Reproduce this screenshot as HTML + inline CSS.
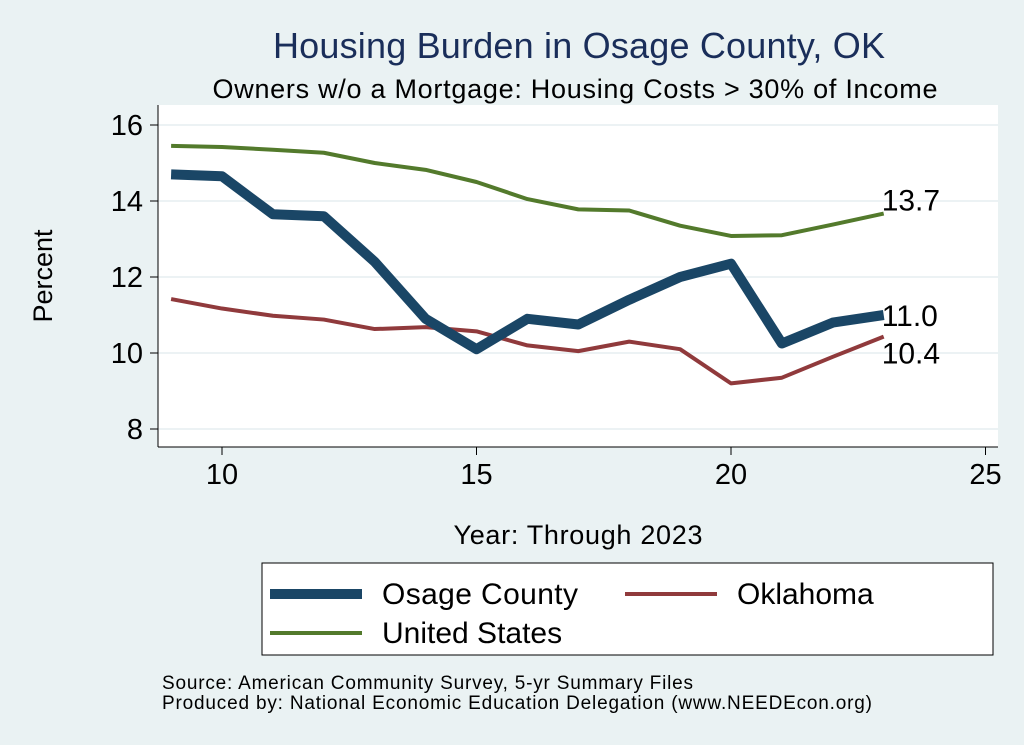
<!DOCTYPE html>
<html><head><meta charset="utf-8"><style>
body{margin:0;background:#eaf2f3;}
svg{display:block;font-family:"Liberation Sans",Arial,sans-serif;}
</style></head><body>
<svg id="c" width="1024" height="745">
<rect width="1024" height="745" fill="#eaf2f3"/>
<text x="579" y="58" font-size="36" fill="#1a2e5a" text-anchor="middle" textLength="612">Housing Burden in Osage County, OK</text>
<text x="575" y="98" font-size="27" fill="#000" text-anchor="middle" textLength="725">Owners w/o a Mortgage: Housing Costs &gt; 30% of Income</text>
<rect x="158" y="105" width="840" height="342" fill="#fff"/>
<g id="grid"></g><g id="axes"></g><g id="series"></g>
<text x="52" y="276" font-size="27" text-anchor="middle" transform="rotate(-90 52 276)">Percent</text>
<text x="578" y="544" font-size="27" text-anchor="middle" textLength="249">Year: Through 2023</text>
<g>
<rect x="262" y="563" width="731" height="92" fill="#fff" stroke="#000" stroke-width="1"/>
<line x1="270" y1="594" x2="362" y2="594" stroke="#1a4666" stroke-width="10"/>
<text x="382" y="604" font-size="30" textLength="196">Osage County</text>
<line x1="625" y1="594" x2="717" y2="594" stroke="#903a3c" stroke-width="4"/>
<text x="737" y="604" font-size="30">Oklahoma</text>
<line x1="270" y1="633" x2="362" y2="633" stroke="#537a2c" stroke-width="4"/>
<text x="382" y="643" font-size="30">United States</text>
</g>
<text x="162" y="689" font-size="19" textLength="531">Source: American Community Survey, 5-yr Summary Files</text>
<text x="162" y="709" font-size="19" textLength="710">Produced by: National Economic Education Delegation (www.NEEDEcon.org)</text>
</svg>
<script>
const years=[9,10,11,12,13,14,15,16,17,18,19,20,21,22,23];
const osage=[14.7,14.65,13.65,13.6,12.4,10.9,10.1,10.9,10.75,11.4,12.0,12.35,10.25,10.8,11.0];
const oklahoma=[11.42,11.17,10.98,10.88,10.63,10.68,10.57,10.2,10.05,10.3,10.1,9.2,9.35,9.9,10.43];
const us=[15.45,15.42,15.35,15.27,15.0,14.82,14.5,14.05,13.78,13.75,13.35,13.08,13.1,13.38,13.67];
const xTicks=[10,15,20,25];
const yTicks=[8,10,12,14,16];
const NS="http://www.w3.org/2000/svg";
const X=v=>222+(v-10)*50.9, Y=v=>353-(v-10)*38;
function mk(t,a,p){const e=document.createElementNS(NS,t);for(const k in a)e.setAttribute(k,a[k]);document.getElementById(p).appendChild(e);return e;}
yTicks.forEach(t=>{
 const g=mk('line',{x1:158,x2:998,y1:Y(t),y2:Y(t),stroke:'#e6eef0','stroke-width':1.5},'grid');
 
 
 const tk=mk('line',{x1:150,x2:158,y1:Y(t),y2:Y(t),stroke:'#000'},'axes');
 
 
 const tx=mk('text',{x:143,y:Y(t)+10,'font-size':29,'text-anchor':'end'},'axes');tx.textContent=t;
 
 
});
xTicks.forEach(t=>{
 const tk=mk('line',{x1:X(t),x2:X(t),y1:447,y2:455,stroke:'#000'},'axes');
 
 
 const tx=mk('text',{x:X(t),y:484,'font-size':29,'text-anchor':'middle'},'axes');tx.textContent=t;
 
 
});
const ax1=mk('line',{x1:158,x2:158,y1:105,y2:447,stroke:'#000'},'axes');


const ax2=mk('line',{x1:158,x2:998,y1:447,y2:447,stroke:'#000'},'axes');


function series(vals,col,w,name,dy){
 const p=mk('polyline',{points:years.map((y,i)=>X(y)+','+Y(vals[i])).join(' '),fill:'none',stroke:col,'stroke-width':w,'stroke-linejoin':'round'},'series');
 
 
 const last=vals[vals.length-1];
 const t=mk('text',{x:X(years[years.length-1])+-2,y:Y(last)+dy,'font-size':30},'series');t.textContent=last.toFixed(1);
 
 
}
series(us,'#537a2c',4,'us',-3);
series(oklahoma,'#903a3c',4,'oklahoma',27);
series(osage,'#1a4666',10,'osage',11);
</script>
</body></html>
